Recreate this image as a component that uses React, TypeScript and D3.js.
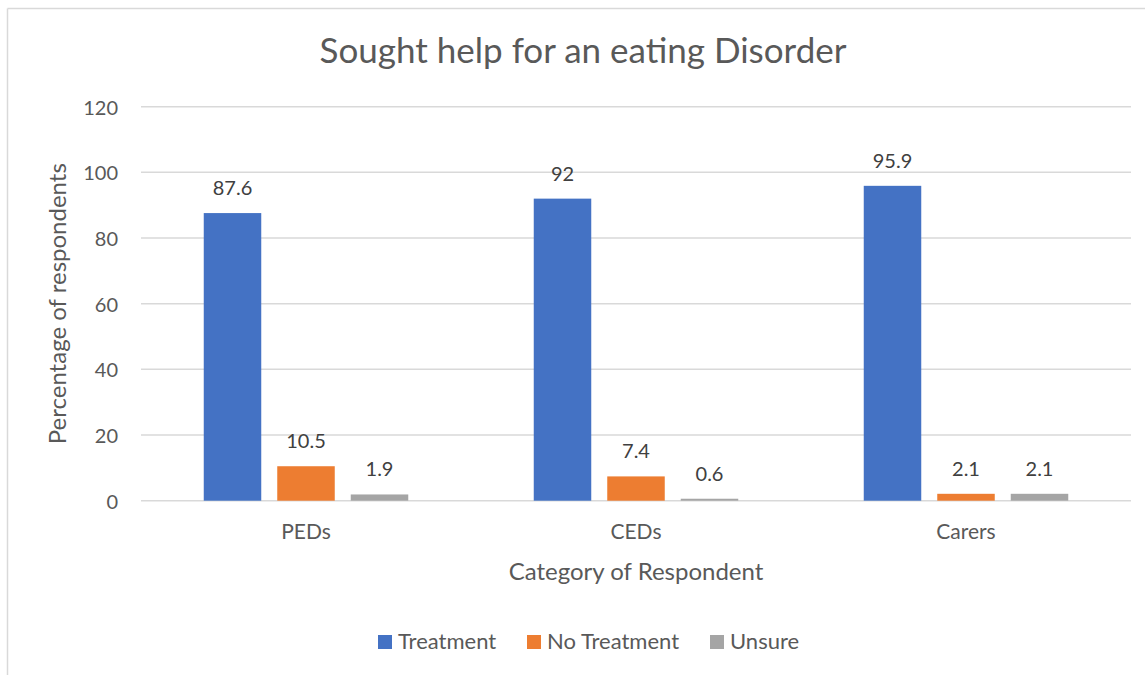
import React from "react";
import * as d3 from "d3";

const categories = ["PEDs", "CEDs", "Carers"];
const seriesNames = ["Treatment", "No Treatment", "Unsure"];
const treatment = [87.6, 92, 95.9];
const noTreatment = [10.5, 7.4, 2.1];
const unsure = [1.9, 0.6, 2.1];
const yTicks = [0, 20, 40, 60, 80, 100, 120];
const colors = ["#4472C4", "#ED7D31", "#A5A5A5"];

const W = 1145;
const H = 675;
const FONT = "Lato, 'Open Sans', sans-serif";

export default function App() {
  const series = [treatment, noTreatment, unsure];
  const left = 141;
  const right = 1131;
  const top = 106.7;
  const bottom = 500.7;
  const y = d3.scaleLinear().domain([0, 120]).range([bottom, top]);
  const x0 = d3.scaleBand().domain(categories).range([left, right]).paddingInner(0).paddingOuter(0);
  const groupW = 204.5;
  const x1 = d3
    .scaleBand()
    .domain(seriesNames)
    .range([0, groupW])
    .paddingInner(16 / 73.5)
    .paddingOuter(0);

  const legendX = [378, 527, 710];

  return (
    <svg width={W} height={H} style={{ position: "absolute", left: 0, top: 0 }} fontFamily={FONT}>
      <rect x={0} y={0} width={W} height={H} fill="#fff" />
      <line x1={7.5} y1={8.5} x2={W} y2={8.5} stroke="#D9D9D9" strokeWidth={1.5} />
      <line x1={7.5} y1={8.5} x2={7.5} y2={H} stroke="#D9D9D9" strokeWidth={1.5} />
      <text x={583} y={63} textAnchor="middle" fontSize={35} fill="#595959">
        Sought help for an eating Disorder
      </text>
      {yTicks.map((t) => (
        <g key={t}>
          <line x1={left} x2={right} y1={y(t)} y2={y(t)} stroke="#D9D9D9" strokeWidth={1.5} />
          <text x={118} y={y(t) + 8} textAnchor="end" fontSize={20} fill="#595959">
            {t}
          </text>
        </g>
      ))}
      {categories.map((c, ci) => {
        const gx = (x0(c) as number) + (x0.bandwidth() - groupW) / 2;
        return (
          <g key={c}>
            {seriesNames.map((s, si) => {
              const v = series[si][ci];
              const bx = gx + (x1(s) as number);
              const bw = x1.bandwidth();
              return (
                <g key={s}>
                  <rect x={bx} y={y(v)} width={bw} height={y(0) - y(v)} fill={colors[si]} />
                  <text x={bx + bw / 2} y={y(v) - 18} textAnchor="middle" fontSize={20} fill="#404040">
                    {v}
                  </text>
                </g>
              );
            })}
            <text
              x={(x0(c) as number) + x0.bandwidth() / 2}
              y={539}
              textAnchor="middle"
              fontSize={21}
              fill="#595959"
            >
              {c}
            </text>
          </g>
        );
      })}
      <text x={636} y={580} textAnchor="middle" fontSize={24} fill="#595959">
        Category of Respondent
      </text>
      <text
        transform={`translate(66, ${(top + bottom) / 2}) rotate(-90)`}
        textAnchor="middle"
        fontSize={24}
        fill="#595959"
      >
        Percentage of respondents
      </text>
      {seriesNames.map((s, i) => (
        <g key={s}>
          <rect x={legendX[i]} y={635} width={14} height={14} fill={colors[i]} />
          <text x={legendX[i] + 20} y={649} fontSize={22} fill="#595959">
            {s}
          </text>
        </g>
      ))}
    </svg>
  );
}
